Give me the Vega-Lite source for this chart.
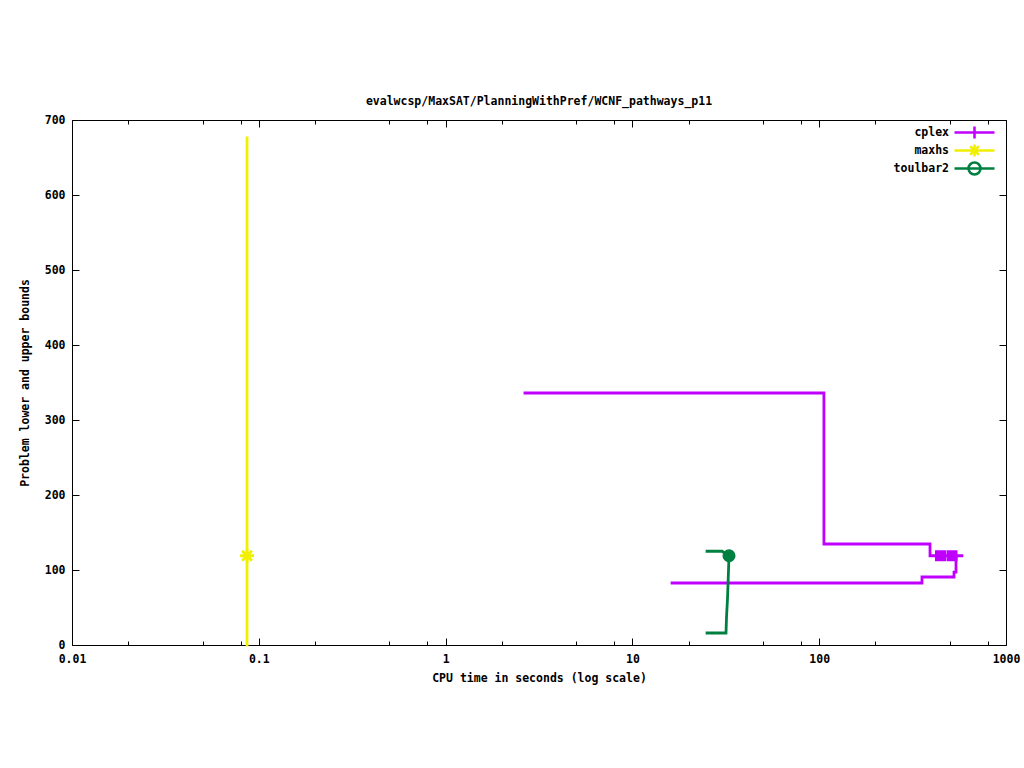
{
  "$schema": "https://vega.github.io/schema/vega-lite/v6.json",
  "width": 934,
  "height": 525,
  "autosize": "none",
  "padding": {"left": 72, "top": 120, "right": 18, "bottom": 123},
  "background": "white",
  "title": {
    "text": "evalwcsp/MaxSAT/PlanningWithPref/WCNF_pathways_p11",
    "font": "DejaVu Sans Mono",
    "fontSize": 11.5,
    "fontWeight": "bold",
    "color": "black",
    "offset": 7,
    "anchor": "middle"
  },
  "datasets": {
    "lines": [
      {"series": "cplex_ub", "solver": "cplex", "i": 0, "x": 2.66, "y": 336},
      {"series": "cplex_ub", "solver": "cplex", "i": 1, "x": 106, "y": 336},
      {"series": "cplex_ub", "solver": "cplex", "i": 2, "x": 106, "y": 134.7},
      {"series": "cplex_ub", "solver": "cplex", "i": 3, "x": 392, "y": 134.7},
      {"series": "cplex_ub", "solver": "cplex", "i": 4, "x": 392, "y": 119},
      {"series": "cplex_ub", "solver": "cplex", "i": 5, "x": 581, "y": 119},
      {"series": "cplex_lb", "solver": "cplex", "i": 0, "x": 16.3, "y": 82.7},
      {"series": "cplex_lb", "solver": "cplex", "i": 1, "x": 355, "y": 82.7},
      {"series": "cplex_lb", "solver": "cplex", "i": 2, "x": 355, "y": 90.7},
      {"series": "cplex_lb", "solver": "cplex", "i": 3, "x": 527, "y": 90.7},
      {"series": "cplex_lb", "solver": "cplex", "i": 4, "x": 527, "y": 97.3},
      {"series": "cplex_lb", "solver": "cplex", "i": 5, "x": 540, "y": 97.3},
      {"series": "cplex_lb", "solver": "cplex", "i": 6, "x": 540, "y": 119},
      {"series": "maxhs", "solver": "maxhs", "i": 0, "x": 0.0865, "y": 0},
      {"series": "maxhs", "solver": "maxhs", "i": 1, "x": 0.0865, "y": 676},
      {"series": "toulbar2_ub", "solver": "toulbar2", "i": 0, "x": 25.1, "y": 125},
      {"series": "toulbar2_ub", "solver": "toulbar2", "i": 1, "x": 30.2, "y": 125},
      {"series": "toulbar2_ub", "solver": "toulbar2", "i": 2, "x": 32.3, "y": 120},
      {"series": "toulbar2_ub", "solver": "toulbar2", "i": 3, "x": 32.9, "y": 119},
      {"series": "toulbar2_lb", "solver": "toulbar2", "i": 0, "x": 25.1, "y": 16},
      {"series": "toulbar2_lb", "solver": "toulbar2", "i": 1, "x": 31.7, "y": 16},
      {"series": "toulbar2_lb", "solver": "toulbar2", "i": 2, "x": 31.9, "y": 37},
      {"series": "toulbar2_lb", "solver": "toulbar2", "i": 3, "x": 32.3, "y": 62},
      {"series": "toulbar2_lb", "solver": "toulbar2", "i": 4, "x": 32.9, "y": 119}
    ],
    "markers": [
      {"solver": "cplex", "x": 446, "y": 119},
      {"solver": "cplex", "x": 514, "y": 119},
      {"solver": "maxhs", "x": 0.0865, "y": 119},
      {"solver": "toulbar2", "x": 32.9, "y": 119}
    ]
  },
  "resolve": {"axis": {"x": "independent", "y": "independent"}},
  "layer": [
    {
      "data": {"name": "lines"},
      "mark": {"type": "line", "strokeWidth": 2.8, "strokeJoin": "miter", "strokeCap": "square"},
      "encoding": {
        "x": {
          "field": "x", "type": "quantitative",
          "scale": {"type": "log", "domain": [0.01, 1000], "nice": false},
          "axis": {
            "orient": "bottom",
            "values": [0.01, 0.1, 1, 10, 100, 1000],
            "format": "~g",
            "ticks": false,
            "labelFlush": false,
            "labelPadding": 8,
            "title": "CPU time in seconds (log scale)",
            "titlePadding": 8
          }
        },
        "y": {
          "field": "y", "type": "quantitative",
          "scale": {"domain": [0, 700], "nice": false},
          "axis": {
            "orient": "left",
            "values": [0, 100, 200, 300, 400, 500, 600, 700],
            "ticks": false,
            "labelPadding": 7,
            "title": "Problem lower and upper bounds",
            "titlePadding": 14
          }
        },
        "color": {
          "field": "solver", "type": "nominal",
          "scale": {"domain": ["cplex", "maxhs", "toulbar2"], "range": ["#bf00ff", "#f0f000", "#008040"]}
        },
        "detail": {"field": "series"},
        "order": {"field": "i", "type": "quantitative"}
      }
    },
    {
      "data": {"name": "markers"},
      "transform": [{"filter": "datum.solver === 'cplex'"}],
      "mark": {"type": "point", "shape": "square", "filled": false, "size": 36, "strokeWidth": 5, "opacity": 1},
      "encoding": {
        "x": {
          "field": "x", "type": "quantitative",
          "scale": {"type": "log", "domain": [0.01, 1000], "nice": false},
          "axis": {"orient": "bottom", "values": [0.01, 0.1, 1, 10, 100, 1000], "labels": false, "tickSize": -7, "title": null}
        },
        "y": {
          "field": "y", "type": "quantitative",
          "scale": {"domain": [0, 700], "nice": false},
          "axis": {"orient": "left", "values": [0, 100, 200, 300, 400, 500, 600, 700], "labels": false, "tickSize": -7, "title": null}
        },
        "color": {"field": "solver", "type": "nominal"}
      }
    },
    {
      "data": {"name": "markers"},
      "transform": [{"filter": "datum.solver === 'maxhs'"}],
      "mark": {"type": "point", "shape": "M-1,0H1M0,-1V1M-0.7,-0.7L0.7,0.7M-0.7,0.7L0.7,-0.7", "filled": false, "size": 196, "strokeWidth": 2.8, "opacity": 1},
      "encoding": {
        "x": {
          "field": "x", "type": "quantitative",
          "scale": {"type": "log", "domain": [0.01, 1000], "nice": false},
          "axis": {"orient": "bottom", "values": [0.02, 0.05, 0.08, 0.2, 0.5, 0.8, 2, 5, 8, 20, 50, 80, 200, 500, 800], "labels": false, "tickSize": -4, "title": null}
        },
        "y": {
          "field": "y", "type": "quantitative",
          "scale": {"domain": [0, 700], "nice": false},
          "axis": {"orient": "right", "values": [0, 100, 200, 300, 400, 500, 600, 700], "labels": false, "tickSize": -7, "title": null}
        },
        "color": {"field": "solver", "type": "nominal"}
      }
    },
    {
      "data": {"name": "markers"},
      "transform": [{"filter": "datum.solver === 'toulbar2'"}],
      "mark": {"type": "point", "shape": "circle", "filled": false, "size": 50, "strokeWidth": 6, "opacity": 1},
      "encoding": {
        "x": {
          "field": "x", "type": "quantitative",
          "scale": {"type": "log", "domain": [0.01, 1000], "nice": false},
          "axis": {"orient": "top", "values": [0.01, 0.1, 1, 10, 100, 1000], "labels": false, "tickSize": -7, "title": null}
        },
        "y": {
          "field": "y", "type": "quantitative",
          "scale": {"domain": [0, 700], "nice": false},
          "axis": null
        },
        "color": {"field": "solver", "type": "nominal"}
      }
    },
    {
      "data": {"name": "markers"},
      "transform": [{"filter": "false"}],
      "mark": {"type": "point", "filled": false, "size": 100, "strokeWidth": 2.5, "opacity": 1},
      "encoding": {
        "x": {
          "field": "x", "type": "quantitative",
          "scale": {"type": "log", "domain": [0.01, 1000], "nice": false},
          "axis": {"orient": "top", "values": [0.02, 0.05, 0.08, 0.2, 0.5, 0.8, 2, 5, 8, 20, 50, 80, 200, 500, 800], "labels": false, "tickSize": -4, "title": null}
        },
        "y": {
          "field": "y", "type": "quantitative",
          "scale": {"domain": [0, 700], "nice": false},
          "axis": null
        },
        "color": {"field": "solver", "type": "nominal"},
        "shape": {
          "field": "solver", "type": "nominal",
          "scale": {
            "domain": ["cplex", "maxhs", "toulbar2"],
            "range": [
              "M-4,0H4M0,-1.2V1.2",
              "M-4,0H4M0,-1.2V1.2M-0.85,-0.85L0.85,0.85M-0.85,0.85L0.85,-0.85",
              "M-4,0H4M1.2,0A1.2,1.2,0,1,1,-1.2,0A1.2,1.2,0,1,1,1.2,0"
            ]
          },
          "legend": {
            "title": null,
            "orient": "none",
            "legendX": 896,
            "legendY": 6,
            "labelAlign": "right",
            "labelOffset": -32,
            "rowPadding": -10.5,
            "symbolSize": 100,
            "symbolStrokeWidth": 2.5,
            "symbolFillColor": "transparent"
          }
        }
      }
    }
  ],
  "config": {
    "view": {"stroke": "black", "strokeWidth": 1},
    "axis": {
      "grid": false,
      "domain": false,
      "tickColor": "black",
      "tickWidth": 1,
      "labelFont": "DejaVu Sans Mono",
      "labelFontSize": 11.5,
      "labelFontWeight": "bold",
      "labelColor": "black",
      "titleFont": "DejaVu Sans Mono",
      "titleFontSize": 11.5,
      "titleFontWeight": "bold",
      "titleColor": "black"
    },
    "legend": {
      "labelFont": "DejaVu Sans Mono",
      "labelFontSize": 11.5,
      "labelFontWeight": "bold",
      "labelColor": "black",
      "padding": 0
    }
  }
}
